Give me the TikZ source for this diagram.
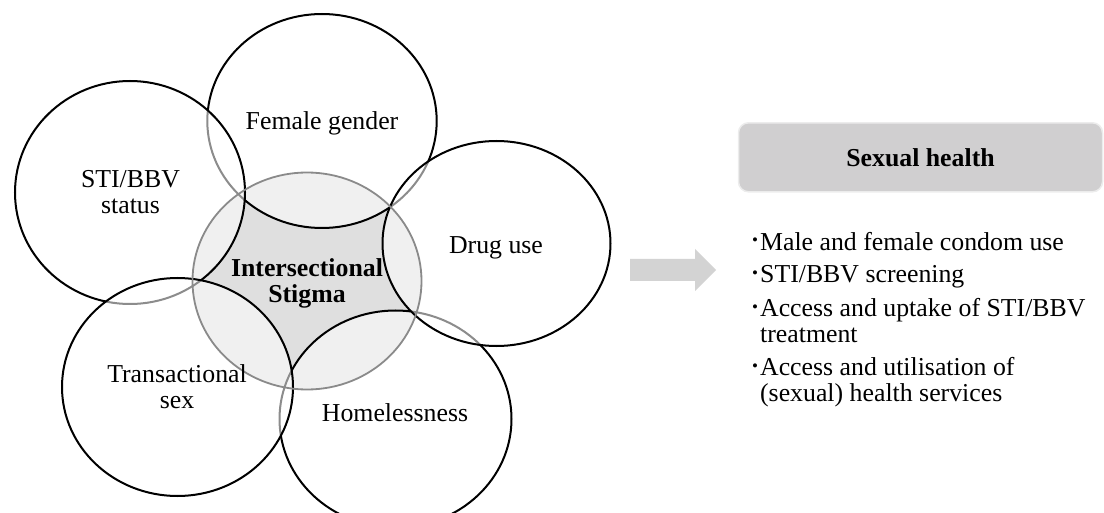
\documentclass[tikz,border=0pt]{standalone}
\usepackage{fontspec}
\setmainfont{Liberation Serif}
\definecolor{stigmagrey}{HTML}{DFDFDF}
\definecolor{rimgrey}{HTML}{8A8A8A}
\definecolor{boxgrey}{HTML}{D0CFD0}
\definecolor{arrowgrey}{HTML}{D3D3D3}
\newcommand{\blt}{{\fontsize{17}{17}\selectfont\raisebox{4.5pt}{\textbullet}}\hspace{2pt}}

\begin{document}
\begin{tikzpicture}[x=1pt,y=-1pt,
		ring/.style={draw=black,line width=2pt,fill=white,fill opacity=0.55,draw opacity=1},
		lbl/.style={font=\fontsize{25.8}{26}\selectfont,inner sep=0pt,align=center,anchor=base},
		bul/.style={font=\fontsize{25.8}{25.8}\selectfont,inner sep=0pt,align=left,anchor=base west}]
	\useasboundingbox (0,0) rectangle (1104,513);
	
	% Centre circle
	\fill[stigmagrey] (307,281) ellipse [x radius=114.5pt, y radius=108.5pt];
	
	% Outer circles
	\draw[ring] (322,121) ellipse [x radius=114.7pt, y radius=107pt];
	\draw[ring] (395.5,419) ellipse [x radius=116pt, y radius=108.5pt];
	\draw[ring] (130,192.5) ellipse [x radius=115pt, y radius=111.5pt];
	\draw[ring] (177.5,387) ellipse [x radius=115.5pt, y radius=109pt];
	\draw[ring] (496.5,243.5) ellipse [x radius=114pt, y radius=102.5pt];
	
	% Rim of the centre circle
	\draw[rimgrey,line width=1.8pt] (307,281) ellipse [x radius=114.5pt, y radius=108.5pt];
	
	% Labels (multi-line: base is the last line)
	\node[lbl] (female) at (322,129.3) {Female gender};
	\node[lbl] (sti) at (130.5,213.3) {STI/BBV\\status};
	\node[lbl] (drug) at (496,253.3) {Drug use};
	\node[lbl] (trans) at (177,408) {Transactional\\sex};
	\node[lbl] (home) at (395,421.3) {Homelessness};
	\node[lbl,font=\fontsize{25.8}{26}\selectfont\bfseries] (stigma) at (307,303) {Intersectional\\Stigma};
	
	% Arrow
	\fill[arrowgrey] (630,259) -- (695,259) -- (695,249) -- (716,270) -- (695,291) -- (695,281) -- (630,281) -- cycle;
	
	% Outcome box
	\node[rounded corners=10pt,fill=boxgrey,draw=boxgrey!40,line width=1.5pt,minimum width=364pt,minimum height=69pt,inner sep=0pt,font=\fontsize{25.8}{26}\selectfont\bfseries] (sexual) at (920.5,157.3) {Sexual health};
	
	% Outcomes
	\node[bul] (item1) at (752,250.5) {\blt Male and female condom use};
	\node[bul] (item2) at (752,283) {\blt STI/BBV screening};
	\node[bul] (item3) at (752,342.3) {\blt Access and uptake of STI/BBV\\\hphantom{\blt}treatment};
	\node[bul] (item4) at (752,401.7) {\blt Access and utilisation of\\\hphantom{\blt}(sexual) health services};
	
\end{tikzpicture}
\end{document}
